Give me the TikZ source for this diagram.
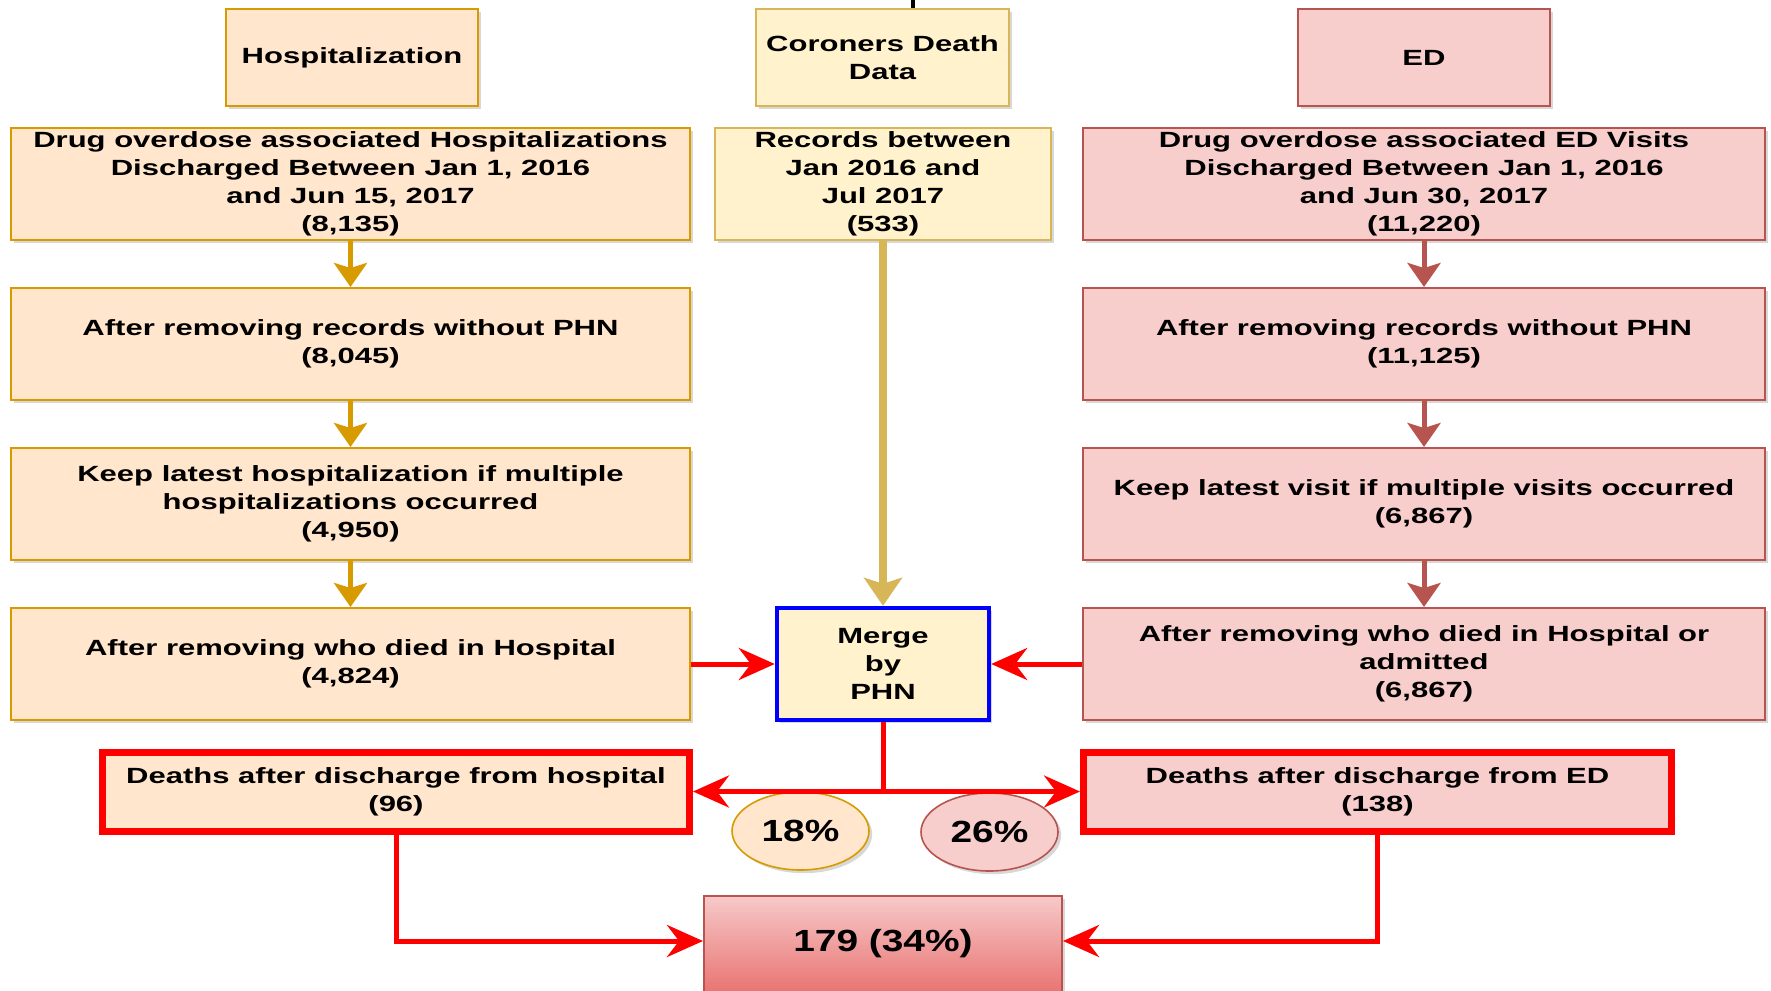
\documentclass[tikz,border=0pt]{standalone}
\usepackage{fontspec}
\newfontfamily\bfam{Liberation Sans}[FakeStretch=1.41]
\newfontfamily\bigfam{Liberation Sans}[FakeStretch=1.27]
\usetikzlibrary{arrows.meta,shadows,shapes.geometric}
\definecolor{hospFill}{HTML}{FFE6CC}
\definecolor{hospDraw}{HTML}{D79B00}
\definecolor{corFill}{HTML}{FFF2CC}
\definecolor{corDraw}{HTML}{D6B656}
\definecolor{edFill}{HTML}{F8CECC}
\definecolor{edDraw}{HTML}{B85450}
\definecolor{gradBot}{HTML}{E66A68}
\definecolor{gradTop}{HTML}{F7C9C9}
\tikzset{
  shad/.style={drop shadow={shadow xshift=1.6pt, shadow yshift=-1.6pt, opacity=0.22, fill=black!70}},
  box/.style={rectangle, draw, line width=1pt, shad, align=center, inner sep=0pt,
    font=\bfam\bfseries\fontsize{11}{14}\selectfont},
  hosp/.style={box, fill=hospFill, draw=hospDraw},
  cor/.style={box, fill=corFill, draw=corDraw},
  edb/.style={box, fill=edFill, draw=edDraw},
  wide/.style={minimum height=56pt},
  death/.style={box, draw=red, line width=3.5pt, minimum width=#1, minimum height=39.5pt},
  pct/.style={ellipse, draw, line width=0.8pt, shad, minimum width=68.5pt, minimum height=39pt,
    inner sep=0pt, font=\bigfam\bfseries\fontsize{15.3}{18}\selectfont},
  harr/.style={draw=hospDraw, line width=2.5pt, -{Stealth[length=12pt, width=16.5pt, inset=2.5pt]}},
  earr/.style={draw=edDraw, line width=2.5pt, -{Stealth[length=12pt, width=16.5pt, inset=2.5pt]}},
  carr/.style={draw=corDraw, line width=4pt, -{Stealth[length=14pt, width=19pt, inset=3pt]}},
  rarr/.style={draw=red, line width=2.5pt, -{Stealth[length=18pt, width=16pt, inset=6pt]}},
}
\begin{document}
\begin{tikzpicture}[x=0.5pt, y=-0.5pt]
\path[use as bounding box] (0,0) rectangle (1771,990);
\clip (0,0) rectangle (1771,990);
% fragment of cut-off title
\fill[black] (911,0) rectangle (915,8);
% headers
\node[hosp, minimum width=126pt, minimum height=48.5pt] (hhead) at (352,57.5) {Hospitalization};
\node[cor, minimum width=126.5pt, minimum height=48.5pt] (chead) at (882.5,57.5) {Coroners Death\\Data};
\node[edb, minimum width=126pt, minimum height=48.5pt] (ehead) at (1424,57.5) {ED};
% row 1
\node[hosp, wide, minimum width=339.5pt] (h1) at (350.5,184) {Drug overdose associated Hospitalizations\\Discharged Between Jan 1, 2016\\and Jun 15, 2017\\(8,135)};
\node[cor, wide, minimum width=168pt] (c1) at (883,184) {Records between\\Jan 2016 and\\Jul 2017\\(533)};
\node[edb, wide, minimum width=341pt] (e1) at (1424,184) {Drug overdose associated ED Visits\\Discharged Between Jan 1, 2016\\and Jun 30, 2017\\(11,220)};
% row 2
\node[hosp, wide, minimum width=339.5pt] (h2) at (350.5,344) {After removing records without PHN\\(8,045)};
\node[edb, wide, minimum width=341pt] (e2) at (1424,344) {After removing records without PHN\\(11,125)};
% row 3
\node[hosp, wide, minimum width=339.5pt] (h3) at (350.5,504) {Keep latest hospitalization if multiple\\hospitalizations occurred\\(4,950)};
\node[edb, wide, minimum width=341pt] (e3) at (1424,504) {Keep latest visit if multiple visits occurred\\(6,867)};
% row 4
\node[hosp, wide, minimum width=339.5pt] (h4) at (350.5,664) {After removing who died in Hospital\\(4,824)};
\node[cor, wide, draw=blue, line width=2.2pt, minimum width=106pt] (merge) at (883,664) {Merge\\by\\PHN};
\node[edb, wide, minimum width=341pt] (e4) at (1424,664) {After removing who died in Hospital or\\admitted\\(6,867)};
% deaths
\node[death=293.5pt, fill=hospFill] (hd) at (396,791.5) {Deaths after discharge from hospital\\(96)};
\node[death=294pt, fill=edFill] (ed) at (1377.5,791.5) {Deaths after discharge from ED\\(138)};
% percentages
\node[pct, fill=hospFill, draw=hospDraw] (p18) at (800.5,831) {18\%};
\node[pct, fill=edFill, draw=edDraw] (p26) at (989.5,832) {26\%};
% total
\node[rectangle, draw=edDraw, line width=1pt, shad, top color=gradTop, bottom color=gradBot,
  minimum width=179pt, minimum height=54pt, inner sep=0pt,
  font=\bigfam\bfseries\fontsize{15.3}{18}\selectfont] (total) at (883,950) {\raisebox{10pt}{179 (34\%)}};
% column connectors
\draw[harr] (h1) -- (h2);
\draw[harr] (h2) -- (h3);
\draw[harr] (h3) -- (h4);
\draw[earr] (e1) -- (e2);
\draw[earr] (e2) -- (e3);
\draw[earr] (e3) -- (e4);
\draw[carr] (c1) -- (merge);
% red connectors
\draw[rarr] (h4) -- (merge);
\draw[rarr] (e4) -- (merge);
\draw[rarr] (merge.south) |- (hd.east);
\draw[rarr] (merge.south) |- (ed.west);
\draw[rarr] (hd.south) |- ([yshift=4.5pt]total.west);
\draw[rarr] (ed.south) |- ([yshift=4.5pt]total.east);
\end{tikzpicture}
\end{document}
